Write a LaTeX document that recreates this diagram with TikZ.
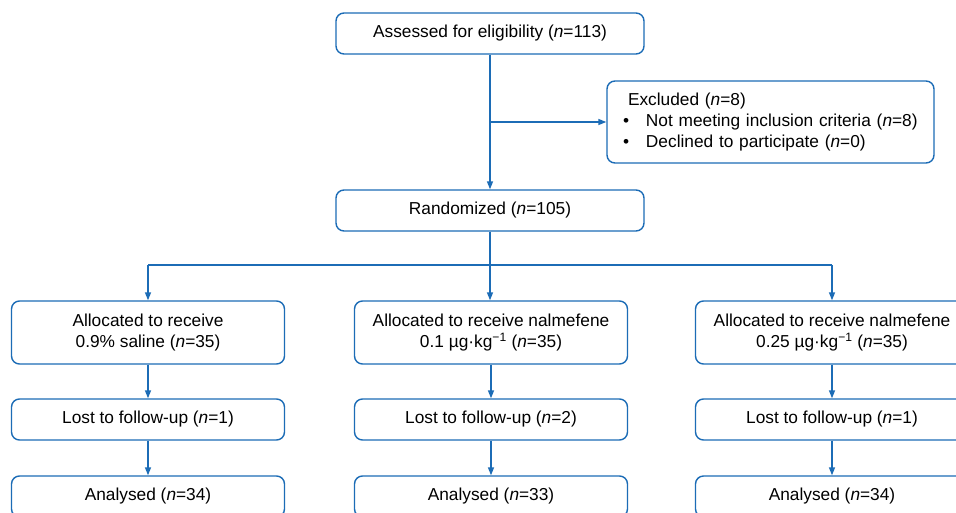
\documentclass[tikz,border=0pt]{standalone}
\usepackage{fontspec}
\setmainfont{Liberation Sans}
\usetikzlibrary{arrows.meta}
\definecolor{flowblue}{RGB}{28,108,182}
\tikzset{
  box/.style={draw=flowblue, line width=1.4pt, rounded corners=8pt, align=center,
    inner sep=0pt, font=\fontsize{17.3}{21}\selectfont, text=black},
  link/.style={draw=flowblue, line width=1.4pt, -{Triangle[length=8pt,width=6pt]}},
  plain/.style={draw=flowblue, line width=1.4pt}
}
\begin{document}
\begin{tikzpicture}[x=1pt,y=-1pt]
\clip (0,0) rectangle (956,512);
\fill[white] (0,0) rectangle (956,512);
\node[box, minimum width=308pt, minimum height=41pt] (assess) at (490,33.5) {Assessed for eligibility (\textit{n}=113)};
\node[box, minimum height=82pt, align=left, text width=295pt, inner xsep=16pt] (excl) at (770.5,122)
 {\hspace*{5pt}Excluded (\textit{n}=8)\\
  \makebox[23pt][l]{•}Not meeting inclusion criteria (\textit{n}=8)\\
  \makebox[23pt][l]{•}Declined to participate (\textit{n}=0)};
\node[box, minimum width=308pt, minimum height=41pt] (rand) at (490,210.5) {Randomized (\textit{n}=105)};

\node[box, minimum width=273pt, minimum height=63pt] (alA) at (148,332.5) {Allocated to receive\\0.9\% saline (\textit{n}=35)};
\node[box, minimum width=273pt, minimum height=63pt] (alB) at (491,332.5) {Allocated to receive nalmefene\\0.1 µg·kg\textsuperscript{−1} (\textit{n}=35)};
\node[box, minimum width=273pt, minimum height=63pt] (alC) at (832,332.5) {Allocated to receive nalmefene\\0.25 µg·kg\textsuperscript{−1} (\textit{n}=35)};

\node[box, minimum width=273pt, minimum height=41pt] (lostA) at (148,419.5) {Lost to follow-up (\textit{n}=1)};
\node[box, minimum width=273pt, minimum height=41pt] (lostB) at (491,419.5) {Lost to follow-up (\textit{n}=2)};
\node[box, minimum width=273pt, minimum height=41pt] (lostC) at (832,419.5) {Lost to follow-up (\textit{n}=1)};

\node[box, minimum width=273pt, minimum height=41pt] (anA) at (148,496.5) {Analysed (\textit{n}=34)};
\node[box, minimum width=273pt, minimum height=41pt] (anB) at (491,496.5) {Analysed (\textit{n}=33)};
\node[box, minimum width=273pt, minimum height=41pt] (anC) at (832,496.5) {Analysed (\textit{n}=34)};

\coordinate (split) at (490,122);
\coordinate (hl) at (148,265);
\coordinate (hm) at (490,265);
\coordinate (hr) at (832,265);

\draw[link] (assess.south -| split) -- (rand.north -| split);
\draw[link] (split) -- (excl.west);
\draw[plain] (rand.south -| hm) -- (hm);
\draw[plain] (hl) -- (hr);
\draw[link] (hl) -- (alA.north -| hl);
\draw[link] (hm) -- (alB.north -| hm);
\draw[link] (hr) -- (alC.north -| hr);

\draw[link] (alA) -- (lostA);
\draw[link] (alB) -- (lostB);
\draw[link] (alC) -- (lostC);
\draw[link] (lostA) -- (anA);
\draw[link] (lostB) -- (anB);
\draw[link] (lostC) -- (anC);
\end{tikzpicture}
\end{document}
